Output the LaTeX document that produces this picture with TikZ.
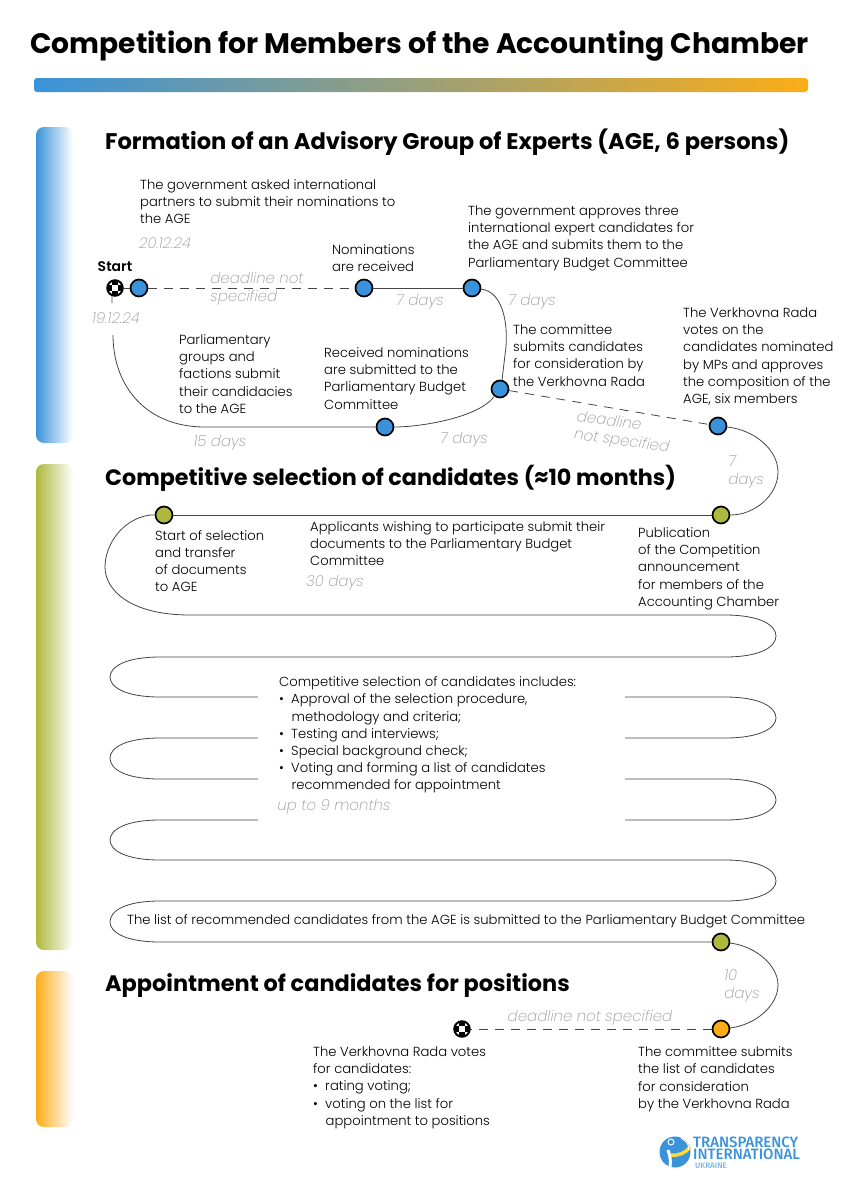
\documentclass[tikz,border=0pt]{standalone}
\usepackage{fontspec}
\setmainfont{Poppins}[UprightFont=*-Light,BoldFont=*-SemiBold,ItalicFont=*-ExtraLightItalic]
\newfontfamily\headfont{Poppins}[UprightFont=*-Bold]
\newfontfamily\logofont{Fira Sans}[UprightFont=*-Medium]
\usetikzlibrary{calc}
\usetikzlibrary{positioning}

\definecolor{tiblue}{HTML}{3A93DA}
\definecolor{tigreen}{HTML}{AEB83C}
\definecolor{tiorange}{HTML}{FBAD17}
\definecolor{tiyellow}{HTML}{F7DC3C}
\definecolor{tiline}{HTML}{444444}
\definecolor{tigray}{HTML}{9A9A9A}

\tikzset{
	dotnode/.style={circle, draw=black, line width=1.7pt, minimum size=17pt, inner sep=0pt},
	flagnode/.style={dotnode, fill=white, line width=2pt, minimum size=15.5pt, path picture={
		\foreach \i/\j in {0/1,1/0,1/2,2/1}{
			\fill[black] ($(path picture bounding box.north west)+(\i*5.17pt,-\j*5.17pt)$) rectangle +(5.17pt,-5.17pt);
		}
	}},
	txt/.style={anchor=north west, inner sep=0pt, yshift=-3.5pt, align=left, font=\fontsize{13.15}{17.2}\selectfont, text=black},
	term/.style={anchor=center, inner sep=0pt, yshift=-2pt, align=left, font=\fontsize{15}{18}\selectfont\itshape, text=tigray},
	head/.style={anchor=west, inner sep=0pt, font=\fontsize{22.5}{28}\headfont, text=black},
	logotxt/.style={anchor=west, inner sep=0pt, text=tiblue, font=\fontsize{15}{15}\logofont},
	track/.style={draw=tiline, line width=0.8pt},
	gap/.style={track, dash pattern=on 9pt off 7pt},
}

\begin{document}
\begin{tikzpicture}[x=1pt,y=-1pt]
	\useasboundingbox (0,0) rectangle (841,1200);

	%Title
	\node[head, font=\fontsize{28.2}{36}\headfont] (title) at (30,46) {Competition for Members of the Accounting Chamber};
	\shade[rounded corners=3pt, left color=tiblue, middle color=tiblue!50!tiorange!90!tigreen, right color=tiorange] (34,78) rectangle (808,92);

	%Strips
	\shade[rounded corners=8pt, left color=tiblue, middle color=tiblue!70, right color=white] (36,127) rectangle (73,443);
	\shade[rounded corners=8pt, left color=tigreen, middle color=tigreen!70, right color=white] (36,464) rectangle (73,950);
	\shade[rounded corners=8pt, left color=tiorange, middle color=tiorange!70, right color=white] (36,971) rectangle (73,1127);

	%Headings
	\node[head, font=\fontsize{22.6}{28}\headfont] (headage) at (105,142) {Formation of an Advisory Group of Experts (AGE, 6 persons)};
	\node[head, font=\fontsize{22.25}{28}\headfont] (headsel) at (105,478) {Competitive selection of candidates (≈10 months)};
	\node[head, font=\fontsize{22.4}{28}\headfont] (headapp) at (105,985) {Appointment of candidates for positions};

	%Dots
	\node[flagnode] (start) at (115,288) {};
	\node[dotnode, fill=tiblue] (asked) at (139,288) {};
	\node[dotnode, fill=tiblue] (received) at (364,288) {};
	\node[dotnode, fill=tiblue] (approves) at (472,288) {};
	\node[dotnode, fill=tiblue] (submits) at (500,389) {};
	\node[dotnode, fill=tiblue] (groups) at (385,427) {};
	\node[dotnode, fill=tiblue] (votes) at (718,426) {};
	\node[dotnode, fill=tigreen] (publish) at (721,515) {};
	\node[dotnode, fill=tigreen] (transfer) at (164,515) {};
	\node[dotnode, fill=tigreen] (listsent) at (721,942) {};
	\node[dotnode, fill=tiorange] (listrada) at (721,1029) {};
	\node[flagnode] (finish) at (462,1029) {};

	%Free ends
	\coordinate (stub) at (112,303);
	\coordinate (curvein) at (113,335);
	\coordinate (a1) at (258,697);
	\coordinate (b1) at (625,697);
	\coordinate (b2) at (625,738);
	\coordinate (a2) at (258,738);
	\coordinate (a3) at (258,779);
	\coordinate (b3) at (625,779);
	\coordinate (b4) at (625,820);
	\coordinate (a4) at (258,820);

	%Track, first block
	\draw[track] (start) -- (asked);
	\draw[track] (start.-110) -- (stub);
	\draw[gap] (asked) -- (received);
	\draw[track] (received) -- (approves);
	\draw[track] (approves) .. controls (505,292) and (509,330) .. (505,355) .. controls (503,372) and (502,380) .. (submits);
	\draw[track] (submits) .. controls (478,418) and (420,427) .. (groups);
	\draw[track] (groups) -- (205,427) .. controls (145,427) and (113,385) .. (curvein);
	\draw[gap] (submits) -- (votes);
	\draw[track] (votes) .. controls (755,430) and (778,450) .. (778,472) .. controls (778,495) and (755,515) .. (publish);

	%Track, second block
	\draw[track] (publish) -- (transfer);
	\draw[track] (transfer) -- (150,515) .. controls (122,519) and (105,545) .. (105,567) .. controls (105,590) and (130,615) .. (190,615)
		-- (725,615) .. controls (760,615) and (776,625) .. (776,636) .. controls (776,647) and (760,657) .. (725,657)
		-- (160,657) .. controls (125,657) and (110,667) .. (110,677) .. controls (110,687) and (125,697) .. (160,697) -- (a1);
	\draw[track] (b1) -- (725,697) .. controls (760,697) and (776,707) .. (776,718) .. controls (776,728) and (760,738) .. (725,738) -- (b2);
	\draw[track] (a2) -- (160,738) .. controls (125,738) and (110,748) .. (110,758) .. controls (110,769) and (125,779) .. (160,779) -- (a3);
	\draw[track] (b3) -- (725,779) .. controls (760,779) and (776,789) .. (776,800) .. controls (776,810) and (760,820) .. (725,820) -- (b4);
	\draw[track] (a4) -- (160,820) .. controls (125,820) and (110,830) .. (110,840) .. controls (110,850) and (125,860) .. (160,860)
		-- (725,860) .. controls (760,860) and (776,870) .. (776,881) .. controls (776,891) and (760,901) .. (725,901)
		-- (160,901) .. controls (125,901) and (110,911) .. (110,922) .. controls (110,932) and (125,942) .. (160,942) -- (listsent);

	%Track, third block
	\draw[track] (listsent) .. controls (755,946) and (778,965) .. (778,985) .. controls (778,1006) and (755,1025) .. (listrada);
	\draw[gap] (listrada) -- (finish);

	%Texts
	\node[inner sep=0pt, anchor=center, font=\fontsize{14}{15}\selectfont\bfseries] (lstart) at (115,267) {Start};
	\node[txt] (tasked) at (140,176) {The government asked international\\partners to submit their nominations to\\the AGE};
	\node[txt] (treceived) at (332,241) {Nominations\\are received};
	\node[txt] (tapproves) at (468,202) {The government approves three\\international expert candidates for\\the AGE and submits them to the\\Parliamentary Budget Committee};
	\node[txt] (tsubmits) at (513,321) {The committee\\submits candidates\\for consideration by\\the Verkhovna Rada};
	\node[txt] (tvotes) at (683,304) {The Verkhovna Rada\\votes on the\\candidates nominated\\by MPs and approves\\the composition of the\\AGE, six members};
	\node[txt] (tgroups) at (179,331) {Parliamentary\\groups and\\factions submit\\their candidacies\\to the AGE};
	\node[txt] (tnoms) at (324,344) {Received nominations\\are submitted to the\\Parliamentary Budget\\Committee};
	\node[txt] (ttransfer) at (155,526.5) {Start of selection\\and transfer\\of documents\\to AGE};
	\node[txt] (tapply) at (310,518) {Applicants wishing to participate submit their\\documents to the Parliamentary Budget\\Committee};
	\node[txt] (tpublish) at (638,524) {Publication\\of the Competition\\announcement\\for members of the\\Accounting Chamber};
	\node[txt] (tselect) at (279,673) {Competitive selection of candidates includes:\\
		\textbullet\hspace{0.55em}Approval of the selection procedure,\\
		\hspace*{0.95em}methodology and criteria;\\
		\textbullet\hspace{0.55em}Testing and interviews;\\
		\textbullet\hspace{0.55em}Special background check;\\
		\textbullet\hspace{0.55em}Voting and forming a list of candidates\\
		\hspace*{0.95em}recommended for appointment};
	\node[txt] (tlist) at (127,911) {The list of recommended candidates from the AGE is submitted to the Parliamentary Budget Committee};
	\node[txt] (tlistrada) at (638,1043) {The committee submits\\the list of candidates\\for consideration\\by the Verkhovna Rada};
	\node[txt] (tfinish) at (313,1043) {The Verkhovna Rada votes\\for candidates:\\
		\textbullet\hspace{0.55em}rating voting;\\
		\textbullet\hspace{0.55em}voting on the list for\\
		\hspace*{0.95em}appointment to positions};

	%Terms
	\node[term] (d1) at (165,241) {20.12.24};
	\node[term] (d2) at (116,316) {19.12.24};
	\node[term] (t1) at (257,287) {deadline not\\specified};
	\node[term] (t2) at (420,300) {7 days};
	\node[term] (t3) at (532,300) {7 days};
	\node[term] (t4) at (220,441) {15 days};
	\node[term] (t5) at (464,438) {7 days};
	\node[term, rotate=-8] (t6) at (623,431) {deadline\\not specified};
	\node[term] (t7) at (746,470) {7\\days};
	\node[term] (t8) at (335,581) {30 days};
	\node[term] (t9) at (334,805) {up to 9 months};
	\node[term] (t10) at (742,984) {10\\days};
	\node[term] (t11) at (590,1016) {deadline not specified};

	%Logo
	\fill[tiblue] (675,1152) circle (15.5);
	\draw[white, line width=1pt] (671,1142) circle (3);
	\draw[white, line width=3pt] (668,1150) .. controls (670,1156) and (671,1160) .. (670,1167);
	\draw[tiyellow, line width=3.5pt] (671,1155) .. controls (678,1156) and (686,1153) .. (690,1147);
	\draw[white, line width=1pt] (681,1138) .. controls (686,1141) and (689,1144) .. (689,1150);
	\node[logotxt] (logoa) at (693,1142) {TRANSPARENCY};
	\node[logotxt] (logob) at (693,1154) {INTERNATIONAL};
	\node[logotxt, text=tiblue!70, font=\fontsize{8}{8}\logofont] (logoc) at (695,1165.5) {UKRAINE};
\end{tikzpicture}
\end{document}
